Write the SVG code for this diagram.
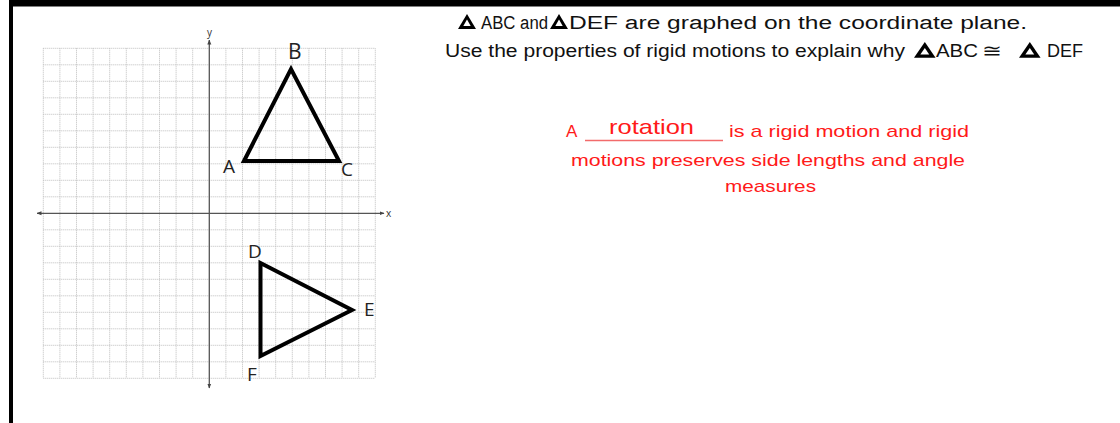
<svg xmlns="http://www.w3.org/2000/svg" width="1120" height="423" viewBox="0 0 1120 423">
<style>
.grid{stroke:#bdbdbd;stroke-width:1;stroke-dasharray:1 1;fill:none}
.axis{stroke:#555;stroke-width:1.3;fill:none}
.tri{stroke:#000;stroke-width:4;fill:none;stroke-linejoin:miter}
.lbl{font-family:"Open Sans","Liberation Sans",sans-serif;font-size:19px;fill:#222}
.ax{font-family:"Open Sans","Liberation Sans",sans-serif;font-size:10px;fill:#333}
.q{font-family:"Liberation Sans","DejaVu Sans",sans-serif;font-size:18px;fill:#111}
.r{font-family:"Liberation Sans","DejaVu Sans",sans-serif;font-size:17px;fill:#ff1a1a}
</style>
<defs>
<marker id="ah" viewBox="0 0 10 10" refX="9" refY="5" markerWidth="5" markerHeight="5" orient="auto-start-reverse" markerUnits="userSpaceOnUse">
<path d="M0,1 L10,5 L0,9 z" fill="#444"/>
</marker>
<g id="dtri">
<polygon points="0,15 9,0 18,15" fill="#000"/>
<polygon points="5.3,12 9,5.6 12.7,12" fill="#fff"/>
</g>
</defs>
<rect width="1120" height="423" fill="#fff"/>
<g id="border">
<rect x="9" y="0" width="1111" height="6.5" fill="#000"/>
<rect x="9" y="0" width="4" height="423" fill="#000"/>
</g>
<g id="grid">
<path class="grid" d="M43.3,48.3V378.3M59.9,48.3V378.3M76.5,48.3V378.3M93.1,48.3V378.3M109.7,48.3V378.3M126.3,48.3V378.3M142.9,48.3V378.3M159.5,48.3V378.3M176.1,48.3V378.3M192.7,48.3V378.3M225.9,48.3V378.3M242.5,48.3V378.3M259.1,48.3V378.3M275.7,48.3V378.3M292.3,48.3V378.3M308.9,48.3V378.3M325.5,48.3V378.3M342.1,48.3V378.3M358.7,48.3V378.3M375.3,48.3V378.3
M43.3,48.3H375.3M43.3,64.8H375.3M43.3,81.3H375.3M43.3,97.8H375.3M43.3,114.3H375.3M43.3,130.8H375.3M43.3,147.3H375.3M43.3,163.8H375.3M43.3,180.3H375.3M43.3,196.8H375.3M43.3,229.8H375.3M43.3,246.3H375.3M43.3,262.8H375.3M43.3,279.3H375.3M43.3,295.8H375.3M43.3,312.3H375.3M43.3,328.8H375.3M43.3,345.3H375.3M43.3,361.8H375.3M43.3,378.3H375.3"/>
</g>
<g id="axes">
<line class="axis" x1="37" y1="213.3" x2="384" y2="213.3" marker-start="url(#ah)" marker-end="url(#ah)"/>
<line class="axis" x1="209.3" y1="40" x2="209.3" y2="388" marker-start="url(#ah)" marker-end="url(#ah)"/>
<text class="ax" x="386" y="216.5">x</text>
<text class="ax" x="207" y="36">y</text>
</g>
<g id="triangle-ABC">
<polygon class="tri" points="244,161 291,69 339,161"/>
<text class="lbl" x="223" y="172.5">A</text>
<text class="lbl" x="288" y="59" style="font-size:21px">B</text>
<text class="lbl" x="341" y="175.5">C</text>
</g>
<g id="triangle-DEF">
<polygon class="tri" points="260.5,263 352,310 260.5,356"/>
<text class="lbl" x="248" y="257.5">D</text>
<text class="lbl" x="364" y="315.5">E</text>
<text class="lbl" x="247" y="380.5">F</text>
</g>
<g id="question">
<use href="#dtri" x="458" y="14"/>
<text class="q" x="481" y="29" textLength="67" lengthAdjust="spacingAndGlyphs">ABC and</text>
<use href="#dtri" x="550" y="14"/>
<text class="q" x="569" y="29" textLength="458" lengthAdjust="spacingAndGlyphs">DEF are graphed on the coordinate plane.</text>
<text class="q" x="445" y="57" textLength="460" lengthAdjust="spacingAndGlyphs">Use the properties of rigid motions to explain why</text>
<use href="#dtri" transform="translate(914,42) scale(1.2,1.05)"/>
<text class="q" x="936" y="57" textLength="42" lengthAdjust="spacingAndGlyphs">ABC</text>
<text class="q" x="982" y="57" textLength="20" lengthAdjust="spacingAndGlyphs">≅</text>
<use href="#dtri" transform="translate(1019,42) scale(1.2,1.05)"/>
<text class="q" x="1047" y="57" textLength="36" lengthAdjust="spacingAndGlyphs">DEF</text>
</g>
<g id="answer">
<text class="r" x="566" y="137">A</text>
<line x1="585" y1="140.5" x2="723" y2="140.5" stroke="#f26b6b" stroke-width="1.5"/>
<text class="r" x="609" y="134" style="font-size:21px" textLength="85" lengthAdjust="spacingAndGlyphs">rotation</text>
<text class="r" x="729" y="137" textLength="240" lengthAdjust="spacingAndGlyphs">is a rigid motion and rigid</text>
<text class="r" x="571" y="166" textLength="394" lengthAdjust="spacingAndGlyphs">motions preserves side lengths and angle</text>
<text class="r" x="725" y="192" textLength="91" lengthAdjust="spacingAndGlyphs">measures</text>
</g>
</svg>
